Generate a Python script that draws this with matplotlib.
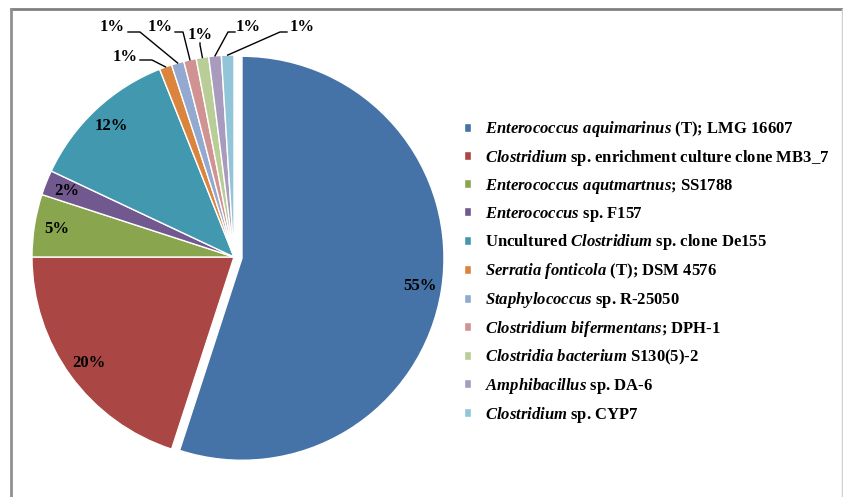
import numpy as np
import matplotlib
matplotlib.use('Agg')
import matplotlib.pyplot as plt
from matplotlib.lines import Line2D

plt.rcParams['font.family'] = 'Liberation Serif'
plt.rcParams['mathtext.fontset'] = 'custom'
plt.rcParams['mathtext.rm'] = 'Liberation Serif:bold'
plt.rcParams['mathtext.it'] = 'Liberation Serif:italic:bold'
plt.rcParams['mathtext.bf'] = 'Liberation Serif:bold'

# data
labels = [
    r'$\mathit{Enterococcus\ aquimarinus}$ (T); LMG 16607',
    r'$\mathit{Clostridium}$ sp. enrichment culture clone MB3_7',
    r'$\mathit{Enterococcus\ aqutmartnus}$; SS1788',
    r'$\mathit{Enterococcus}$ sp. F157',
    r'Uncultured $\mathit{Clostridium}$ sp. clone De155',
    r'$\mathit{Serratia\ fonticola}$ (T); DSM 4576',
    r'$\mathit{Staphylococcus}$ sp. R-25050',
    r'$\mathit{Clostridium\ bifermentans}$; DPH-1',
    r'$\mathit{Clostridia\ bacterium}$ S130(5)-2',
    r'$\mathit{Amphibacillus}$ sp. DA-6',
    r'$\mathit{Clostridium}$ sp. CYP7',
]
values = [55, 20, 5, 2, 12, 1, 1, 1, 1, 1, 1]
colors = ['#4572A7', '#AA4643', '#89A54E', '#71588F', '#4198AF', '#DB843D',
          '#93A9CF', '#D19392', '#B9CD96', '#A99BBD', '#92C5D8']
explode = [0.04] + [0] * 10

W, H = 843, 497
fig = plt.figure(figsize=(W / 100, H / 100), dpi=100)

# pie axes: centre (234, 257) px, radius 202 px
cx, cy, R = 234, 257, 202
lim = 1.2
side = 2 * lim * R
ax = fig.add_axes([(cx - side / 2) / W, (H - cy - side / 2) / H, side / W, side / H])

wedges, texts, autotexts = ax.pie(
    values, colors=colors, explode=explode, startangle=90, counterclock=False,
    autopct=lambda p: f'{p:.0f}%' if p >= 1.5 else '', pctdistance=0.89,
    wedgeprops=dict(edgecolor='white', linewidth=1),
    textprops=dict(fontsize=12, fontweight='bold', color='black'), radius=1)
ax.set_xlim(-lim, lim)
ax.set_ylim(-lim, lim)
ax.set_aspect('equal')
ax.axis('off')


def px(x, y):
    # pixel position -> pie data coords
    return (x - cx) / R, (cy - y) / R


# outside labels for the small slices: (text pos, line start, elbow) in pixels
small_pos = {
    5: ((125, 57), (140, 60), (152, 60)),
    6: ((112, 27), (128, 32), (140, 32)),
    7: ((160, 27), (175, 32), (183, 32)),
    8: ((200, 35), (200, 43), (200, 45)),
    9: ((248, 27), (235, 32), (228, 32)),
    10: ((302, 27), (287, 32), (280, 32)),
}
for i, (tp, p1, p2) in small_pos.items():
    w = wedges[i]
    mid = np.deg2rad((w.theta1 + w.theta2) / 2)
    ex, ey = np.cos(mid) * 1.0, np.sin(mid) * 1.0
    a, b = px(*p1)
    c, d = px(*p2)
    ax.plot([a, c, ex], [b, d, ey], color='black', lw=1, clip_on=False)
    tx, ty = px(*tp)
    ax.text(tx, ty, f'{values[i]}%', ha='center', va='center', fontsize=12,
            fontweight='bold')

leg = fig.legend(wedges, labels, loc='upper left',
                 bbox_to_anchor=(449 / W, 1 - 104 / H), frameon=False,
                 prop=dict(size=12, weight='bold'), handlelength=0.45,
                 handleheight=0.45, handletextpad=0.82, labelspacing=0.53)

# frame around figure
fig.add_artist(Line2D([11 / W, 842 / W], [1 - 9 / H] * 2, transform=fig.transFigure,
                      color='#808080', lw=2))
fig.add_artist(Line2D([11 / W] * 2, [0, 1 - 9 / H], transform=fig.transFigure,
                      color='#909090', lw=2))
fig.add_artist(Line2D([842 / W] * 2, [0, 1 - 9 / H], transform=fig.transFigure,
                      color='#d0d0d0', lw=1))

fig.savefig('out.png', dpi=100)
